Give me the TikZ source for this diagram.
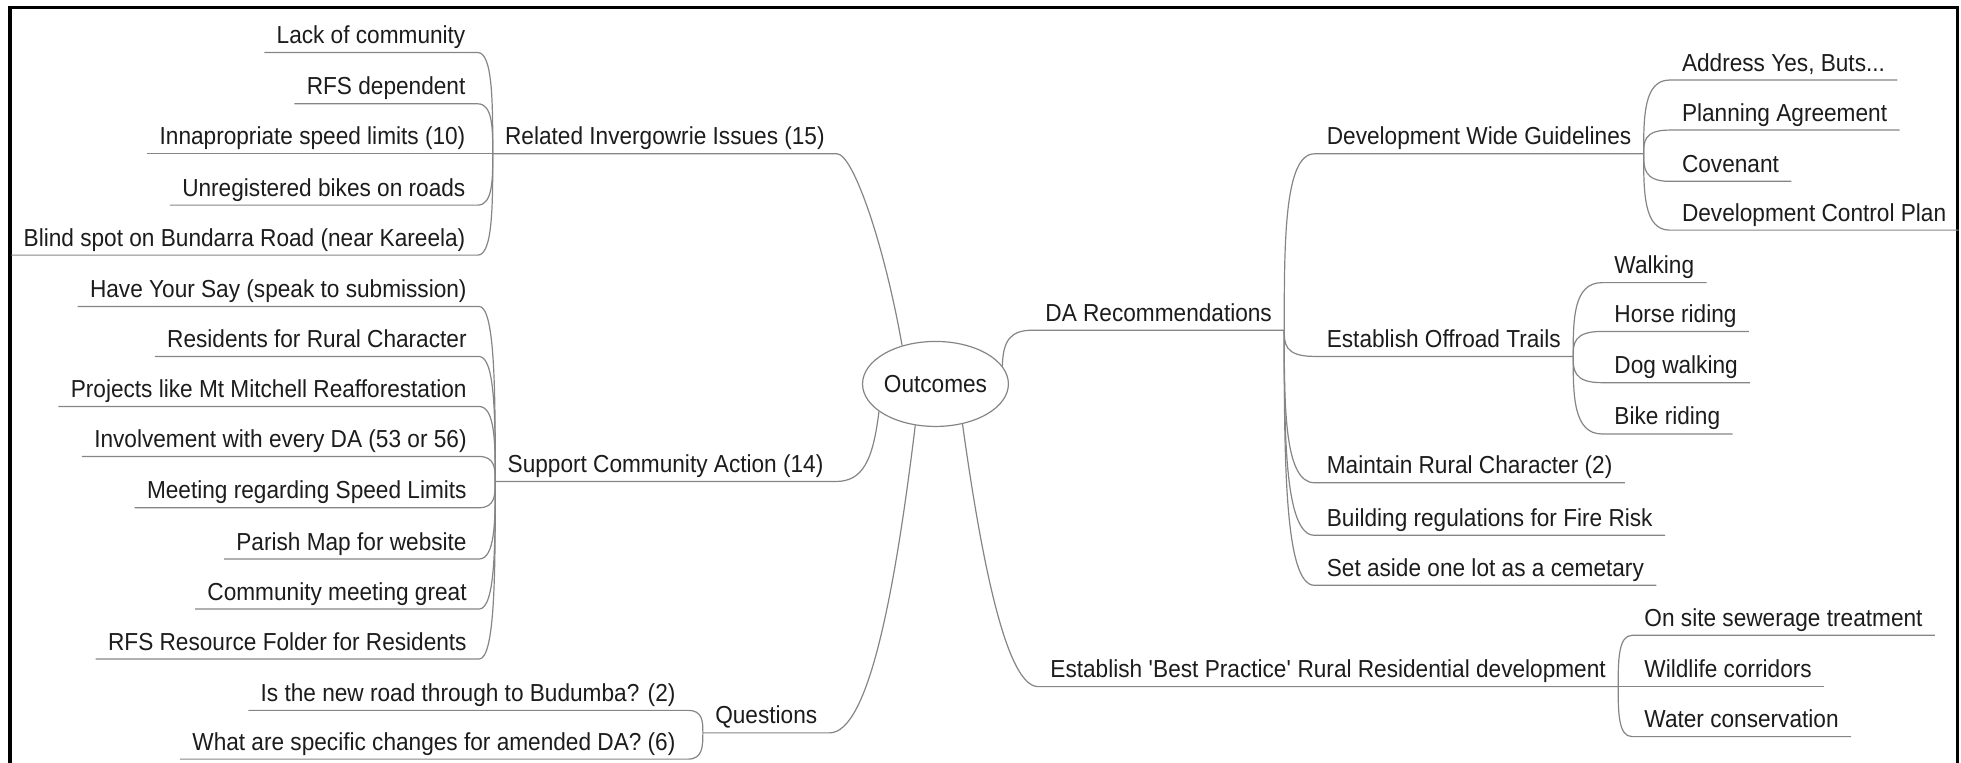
\documentclass[tikz,border=0pt]{standalone}
\usepackage{fontspec}
\setmainfont[FakeStretch=0.92]{Liberation Sans}
\usetikzlibrary{shapes,calc}
\definecolor{wire}{HTML}{858585}
\definecolor{ink}{HTML}{1C1C1C}

\begin{document}
\begin{tikzpicture}[x=0.6253pt,y=0.6253pt,
  topic/.style={inner xsep=6pt,inner ysep=1.8pt,text height=9.4pt,text depth=2.5pt,text=ink,font=\fontsize{12.3}{14}\selectfont},
  west/.style={topic,anchor=south east},
  east/.style={topic,anchor=south west},
  wire/.style={draw=wire,line width=0.6pt},
  twig/.style={to path={.. controls ($(\tikztostart)!0.5!(\tikztostart|-\tikztotarget)$) and (\tikztostart|-\tikztotarget) .. (\tikztotarget)}}]
\useasboundingbox (0,0) rectangle (1568,-610);
\draw[line width=1.6pt] (8,-625) -- (8,-6) -- (1565,-6) -- (1565,-625);

\node[shape=ellipse,draw=wire,line width=0.6pt,minimum width=66pt,minimum height=42.5pt,inner sep=0pt,text=ink,font=\fontsize{12.3}{14}\selectfont] (root) at (748,-307) {Outcomes};

\node[east] (rel) at (394,-123) {Related Invergowrie Issues (15)};
\node[east] (sup) at (396,-385) {Support Community Action (14)};
\node[east] (qst) at (562,-586) {Questions};
\node[east] (da) at (826,-264) {DA Recommendations};
\node[east] (bp) at (830,-549) {Establish \textquotesingle Best Practice\textquotesingle\ Rural Residential development};

\node[west] (lack) at (382,-42) {Lack of community};
\node[west] (rfs) at (382,-83) {RFS dependent};
\node[west] (speed) at (382,-123) {Innapropriate speed limits (10)};
\node[west] (bikes) at (382,-164) {Unregistered bikes on roads};
\node[west] (blind) at (382,-204) {Blind spot on Bundarra Road (near Kareela)};

\node[west] (say) at (383,-245) {Have Your Say (speak to submission)};
\node[west] (res) at (383,-285) {Residents for Rural Character};
\node[west] (proj) at (383,-325) {Projects like Mt Mitchell Reafforestation};
\node[west] (inv) at (383,-365) {Involvement with every DA (53 or 56)};
\node[west] (meet) at (383,-406) {Meeting regarding Speed Limits};
\node[west] (map) at (383,-447) {Parish Map for website};
\node[west] (great) at (383,-487) {Community meeting great};
\node[west] (folder) at (383,-527) {RFS Resource Folder for Residents};

\node[west] (road) at (550,-568) {Is the new road through to Budumba? (2)};
\node[west] (amend) at (550,-607) {What are specific changes for amended DA? (6)};

\node[east] (dwg) at (1051,-123) {Development Wide Guidelines};
\node[east] (trail) at (1051,-285) {Establish Offroad Trails};
\node[east] (rural) at (1051,-386) {Maintain Rural Character (2)};
\node[east] (fire) at (1051,-428) {Building regulations for Fire Risk};
\node[east] (cem) at (1051,-468) {Set aside one lot as a cemetary};

\node[east] (yes) at (1335,-64) {Address Yes, Buts...};
\node[east] (plan) at (1335,-104) {Planning Agreement};
\node[east] (cov) at (1335,-145) {Covenant};
\node[east] (dcp) at (1335,-184) {Development Control Plan};

\node[east] (walk) at (1281,-226) {Walking};
\node[east] (horse) at (1281,-265) {Horse riding};
\node[east] (dog) at (1281,-306) {Dog walking};
\node[east] (bike) at (1281,-347) {Bike riding};

\node[east] (sew) at (1305,-508) {On site sewerage treatment};
\node[east] (wild) at (1305,-549) {Wildlife corridors};
\node[east] (water) at (1305,-589) {Water conservation};

\draw[wire] (root.131) .. controls (707,-195) and (682,-123) .. (rel.south east) -- (rel.south west);
\draw[wire] (root.206) .. controls (698,-368) and (690,-385) .. (sup.south east) -- (sup.south west);
\draw[wire] (root.244) .. controls (716,-470) and (695,-586) .. (qst.south east) -- (qst.south west);
\draw[wire] (root.15) .. controls (802,-272) and (808,-264) .. (da.south west) -- (da.south east);
\draw[wire] (root.304) .. controls (785,-450) and (805,-549) .. (bp.south west) -- (bp.south east);

\draw[wire] (rel.south west) to[twig] (lack.south east) -- (lack.south west);
\draw[wire] (rel.south west) to[twig] (rfs.south east) -- (rfs.south west);
\draw[wire] (rel.south west) to[twig] (speed.south east) -- (speed.south west);
\draw[wire] (rel.south west) to[twig] (bikes.south east) -- (bikes.south west);
\draw[wire] (rel.south west) to[twig] (blind.south east) -- (blind.south west);

\draw[wire] (sup.south west) to[twig] (say.south east) -- (say.south west);
\draw[wire] (sup.south west) to[twig] (res.south east) -- (res.south west);
\draw[wire] (sup.south west) to[twig] (proj.south east) -- (proj.south west);
\draw[wire] (sup.south west) to[twig] (inv.south east) -- (inv.south west);
\draw[wire] (sup.south west) to[twig] (meet.south east) -- (meet.south west);
\draw[wire] (sup.south west) to[twig] (map.south east) -- (map.south west);
\draw[wire] (sup.south west) to[twig] (great.south east) -- (great.south west);
\draw[wire] (sup.south west) to[twig] (folder.south east) -- (folder.south west);

\draw[wire] (qst.south west) to[twig] (road.south east) -- (road.south west);
\draw[wire] (qst.south west) to[twig] (amend.south east) -- (amend.south west);

\draw[wire] (da.south east) to[twig] (dwg.south west) -- (dwg.south east);
\draw[wire] (da.south east) to[twig] (trail.south west) -- (trail.south east);
\draw[wire] (da.south east) to[twig] (rural.south west) -- (rural.south east);
\draw[wire] (da.south east) to[twig] (fire.south west) -- (fire.south east);
\draw[wire] (da.south east) to[twig] (cem.south west) -- (cem.south east);

\draw[wire] (dwg.south east) to[twig] (yes.south west) -- (yes.south east);
\draw[wire] (dwg.south east) to[twig] (plan.south west) -- (plan.south east);
\draw[wire] (dwg.south east) to[twig] (cov.south west) -- (cov.south east);
\draw[wire] (dwg.south east) to[twig] (dcp.south west) -- (dcp.south east);

\draw[wire] (trail.south east) to[twig] (walk.south west) -- (walk.south east);
\draw[wire] (trail.south east) to[twig] (horse.south west) -- (horse.south east);
\draw[wire] (trail.south east) to[twig] (dog.south west) -- (dog.south east);
\draw[wire] (trail.south east) to[twig] (bike.south west) -- (bike.south east);

\draw[wire] (bp.south east) to[twig] (sew.south west) -- (sew.south east);
\draw[wire] (bp.south east) to[twig] (wild.south west) -- (wild.south east);
\draw[wire] (bp.south east) to[twig] (water.south west) -- (water.south east);
\end{tikzpicture}
\end{document}
